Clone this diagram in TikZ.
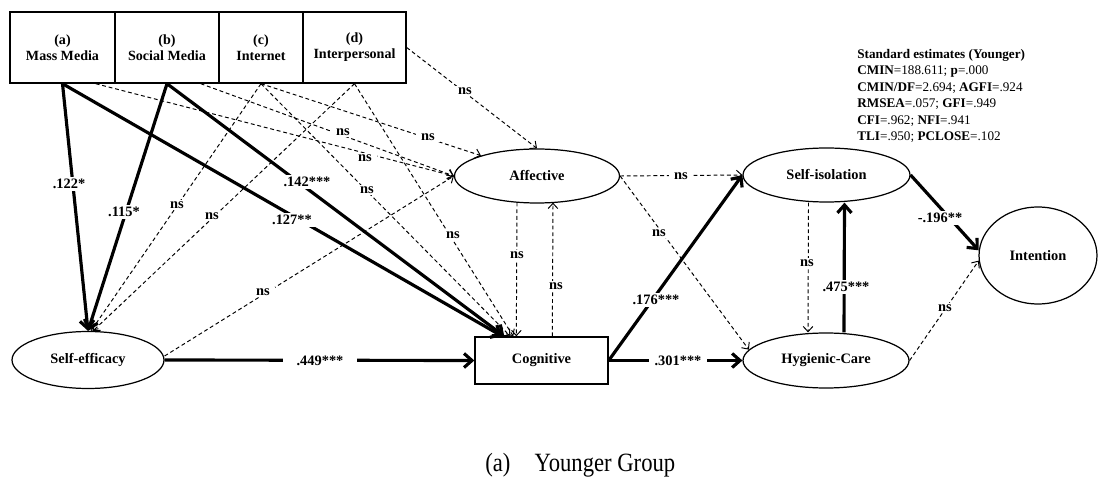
\documentclass[tikz,border=0pt]{standalone}
\usepackage{fontspec}
\setmainfont{Liberation Serif}
\usepackage{graphicx}
\usetikzlibrary{shapes.geometric,arrows.meta,calc}
\begin{document}
\begin{tikzpicture}[x=0.02cm,y=-0.02cm,
 box/.style={draw, line width=0.8pt, inner sep=0, align=center, font=\bfseries\fontsize{8}{9}\selectfont},
 ell/.style={ellipse, draw, line width=0.7pt, inner sep=0, font=\bfseries\fontsize{8.2}{9.6}\selectfont},
 sig/.style={line width=1.8pt, -{Straight Barb[length=4.5pt,width=8pt]}},
 nsig/.style={line width=0.55pt, dash pattern=on 2.2pt off 1.6pt, -{Straight Barb[length=3pt,width=5.5pt]}},
 lab/.style={fill=white, inner xsep=3pt, inner ysep=1pt, font=\bfseries\fontsize{8.2}{9.6}\selectfont}]
\useasboundingbox (0,0) rectangle (1098,479);
% nodes
\node[box, minimum width=2.1cm, minimum height=1.42cm] (mass) at (62.5,47.5) {(a)\\Mass Media};
\node[box, minimum width=2.08cm, minimum height=1.42cm] (soc) at (167,47.5) {(b)\\Social Media};
\node[box, minimum width=1.68cm, minimum height=1.42cm] (inet) at (261,47.5) {(c)\\Internet};
\node[box, minimum width=2.06cm, minimum height=1.42cm] (inter) at (354.5,47.5) {(d)\\Interpersonal};
\node[ell, minimum width=3.04cm, minimum height=1.14cm] (se) at (88,360) {Self-efficacy};
\node[box, font=\bfseries\fontsize{8.2}{9.6}\selectfont, minimum width=2.66cm, minimum height=0.94cm] (cog) at (541.5,360.5) {Cognitive};
\node[ell, minimum width=3.3cm, minimum height=1.08cm] (aff) at (537,176) {Affective};
\node[ell, minimum width=3.34cm, minimum height=1.08cm] (siso) at (826.5,175) {Self-isolation};
\node[ell, minimum width=3.32cm, minimum height=1.1cm] (hyg) at (826,360.5) {Hygienic-Care};
\node[ell, minimum width=2.36cm, minimum height=1.94cm] (intent) at (1038,255.5) {Intention};
\node[anchor=north west, inner sep=0, align=left, font=\fontsize{7.5}{9.35}\selectfont] (fit) at (857,49)
 {\textbf{Standard estimates (Younger)}\\
  \textbf{CMIN}=188.611; \textbf{p}=.000\\
  \textbf{CMIN/DF}=2.694; \textbf{AGFI}=.924\\
  \textbf{RMSEA}=.057; \textbf{GFI}=.949\\
  \textbf{CFI}=.962; \textbf{NFI}=.941\\
  \textbf{TLI}=.950; \textbf{PCLOSE}=.102};
\node[anchor=base west, inner sep=0, font=\fontsize{15}{17}\selectfont] (cap) at (485,471)
 {\scalebox{0.86}[1]{(a)\hspace{16pt}Younger Group}};
% connectors
\draw[sig] (mass.south) -- (se.north);
\draw[sig] (soc.south) -- (se.north);
\draw[sig] (mass.south) -- ($(cog.north west)+(28,0)$);
\draw[sig] (soc.south) -- ($(cog.north west)+(30,0)$);
\draw[nsig] (inet.south) -- ($(se.north)+(3,0)$);
\draw[nsig] (inter.south) -- ($(se.north)+(5,0)$);
\draw[nsig] ($(se.east)+(0,-4)$) -- (aff.west);
\draw[sig] (se.east) -- (cog.west);
\draw[nsig] ($(mass.south east)+(-20,0)$) -- (aff.west);
\draw[nsig] ($(soc.south east)+(-19,0)$) -- (aff.west);
\draw[nsig] (inet.south) -- (aff.160);
\draw[nsig] (inter.east) -- (aff.north);
\draw[nsig] (inet.south) -- ($(cog.north west)+(36,0)$);
\draw[nsig] (inter.south) -- ($(cog.north west)+(39,0)$);
\draw[nsig] ($(aff.south)+(-20,-1)$) -- ($(cog.north west)+(42,0)$);
\draw[nsig] ($(cog.north west)+(78,0)$) -- ($(aff.south)+(16,-1)$);
\draw[nsig] (aff.east) -- (siso.west);
\draw[nsig] (aff.east) -- (hyg.172);
\draw[sig] (cog.east) -- (siso.west);
\draw[sig] (cog.east) -- (hyg.west);
\draw[nsig] ($(siso.south)+(-18,0)$) -- ($(hyg.north)+(-18,0)$);
\draw[sig] ($(hyg.north)+(18,0)$) -- ($(siso.south)+(18,0)$);
\draw[sig] (siso.east) -- (intent.175);
\draw[nsig] (hyg.east) -- (intent.185);
% labels
\node[lab] (l1) at (69,184) {.122*};
\node[lab] (l2) at (124,212) {.115*};
\node[lab] (l3) at (292,220) {.127**};
\node[lab] (l4) at (307,182) {.142***};
\node[lab] (l5) at (177,205) {ns};
\node[lab] (l6) at (212,216) {ns};
\node[lab] (l7) at (263,292) {ns};
\node[lab, inner xsep=8pt] (l8) at (320,361) {.449***};
\node[lab] (l9) at (343,132) {ns};
\node[lab] (l10) at (365,158) {ns};
\node[lab] (l11) at (428,137) {ns};
\node[lab] (l12) at (465,91) {ns};
\node[lab] (l13) at (367,190) {ns};
\node[lab] (l14) at (453,235) {ns};
\node[lab] (l15) at (517,255) {ns};
\node[lab] (l16) at (556,286) {ns};
\node[lab] (l17) at (681,176) {ns};
\node[lab] (l18) at (659,233) {ns};
\node[lab] (l19) at (656,300) {.176***};
\node[lab] (l20) at (678,361) {.301***};
\node[lab] (l21) at (807,263) {ns};
\node[lab] (l22) at (846,287) {.475***};
\node[lab] (l23) at (940,218) {-.196**};
\node[lab] (l24) at (945,308) {ns};
\end{tikzpicture}
\end{document}
